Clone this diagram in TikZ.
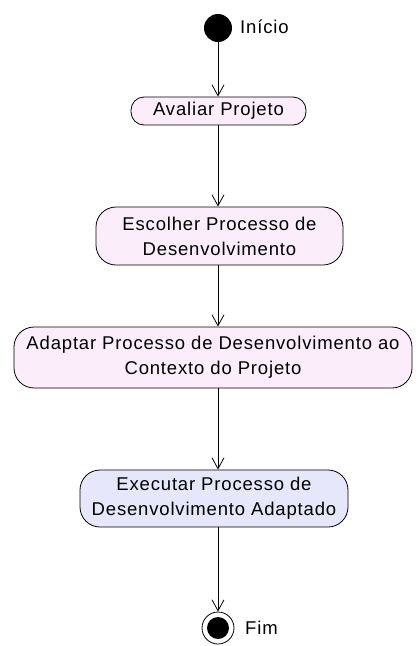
\documentclass[tikz,border=0pt]{standalone}
\usepackage{fontspec}
\setmainfont{Liberation Sans}
\newfontfamily\actfont[LetterSpace=4.5]{Liberation Sans}
\usetikzlibrary{arrows.meta}
\definecolor{actpink}{RGB}{251,238,250}
\definecolor{actblue}{RGB}{230,231,250}
\tikzset{
  act/.style={draw=black, line width=0.8pt, rounded corners=20pt, align=center,
    inner sep=0pt, font=\actfont\fontsize{18.5}{25}\selectfont, fill=actpink},
  arr/.style={line width=0.8pt, -{Straight Barb[length=11pt,width=12pt,line width=0.8pt]}},
  lbl/.style={font=\actfont\fontsize{18.5}{22}\selectfont, anchor=west, inner sep=0pt}
}
\begin{document}
\begin{tikzpicture}[x=1pt,y=-1pt]
\useasboundingbox (0,0) rectangle (419,646);
\node[circle, fill=black, minimum size=28pt, inner sep=0pt] (start) at (218,28) {};
\node[lbl] (startlbl) at (240,27) {Início};
\node[act, minimum width=175pt, minimum height=28pt, rounded corners=13pt] (n1) at (218.5,111) {Avaliar Projeto};
\node[act, minimum width=247pt, minimum height=58pt] (n2) at (219.5,236) {Escolher Processo de\\Desenvolvimento};
\node[act, minimum width=398pt, minimum height=61pt] (n3) at (213,357.5) {Adaptar Processo de Desenvolvimento ao\\Contexto do Projeto};
\node[act, fill=actblue, minimum width=268pt, minimum height=57pt] (n4) at (214,498.5) {Executar Processo de\\Desenvolvimento Adaptado};
\node[circle, draw=black, line width=0.8pt, minimum size=32pt, inner sep=0pt] (end) at (218,628) {};
\node[circle, fill=black, minimum size=22pt, inner sep=0pt] (endin) at (218,628) {};
\node[lbl] (endlbl) at (245,628) {Fim};
\draw[arr] (start) -- (n1.north -| start);
\draw[arr] (n1.south -| start) -- (n2.north -| start);
\draw[arr] (n2.south -| start) -- (n3.north -| start);
\draw[arr] (n3.south -| start) -- (n4.north -| start);
\draw[arr] (n4.south -| start) -- (end);
\end{tikzpicture}
\end{document}
